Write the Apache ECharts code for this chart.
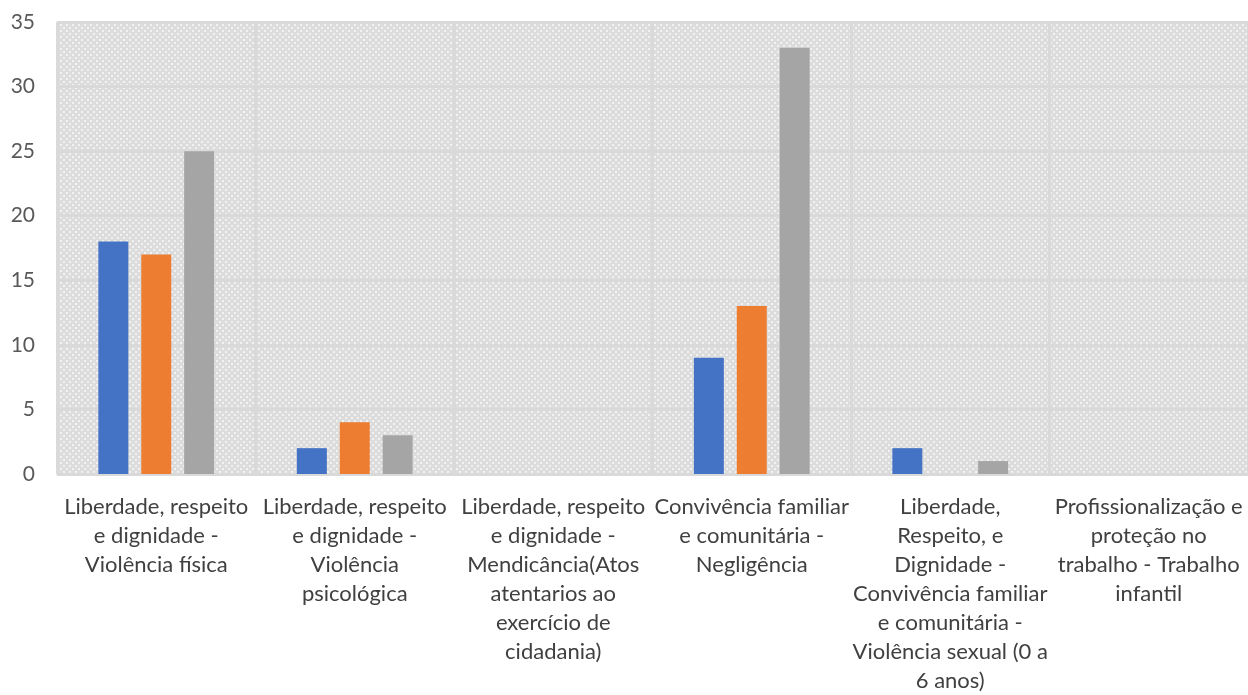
<!DOCTYPE html>
<html>
<head>
<meta charset="utf-8">
<script src="https://cdn.jsdelivr.net/npm/echarts@6/dist/echarts.min.js"></script>
<style>
  html, body { margin: 0; padding: 0; background: #fff; }
  #chart { width: 1248px; height: 695px; }
</style>
</head>
<body>
<div id="chart"></div>
<script>
  var categories = [
    'Liberdade, respeito\ne dignidade -\nViolência física',
    'Liberdade, respeito\ne dignidade -\nViolência\npsicológica',
    'Liberdade, respeito\ne dignidade -\nMendicância(Atos\natentarios ao\nexercício de\ncidadania)',
    'Convivência familiar\ne comunitária -\nNegligência',
    'Liberdade,\nRespeito, e\nDignidade -\nConvivência familiar\ne comunitária -\nViolência sexual (0 a\n6 anos)',
    'Profissionalização e\nproteção no\ntrabalho - Trabalho\ninfantil'
  ];
  var serie1 = [18, 2, 0, 9, 2, 0];
  var serie2 = [17, 4, 0, 13, 0, 0];
  var serie3 = [25, 3, 0, 33, 1, 0];

  // fundo pontilhado da área do gráfico
  function makePattern() {
    var c = document.createElement('canvas');
    c.width = 6; c.height = 6;
    var ctx = c.getContext('2d');
    ctx.fillStyle = '#dcdcdc';
    ctx.fillRect(0, 0, 6, 6);
    ctx.fillStyle = '#f2f2f2';
    ctx.fillRect(0, 0, 2, 2);
    ctx.fillRect(3, 3, 2, 2);
    return c;
  }

  var myChart = echarts.init(document.getElementById('chart'));
  var barStyle = { barWidth: 30, barGap: '43%' };

  var option = {
    animation: false,
    textStyle: { fontFamily: 'Lato, "Open Sans", sans-serif' },
    grid: {
      left: 57, right: 0, top: 22, bottom: 217,
      show: true,
      borderWidth: 0,
      backgroundColor: { image: makePattern(), repeat: 'repeat' }
    },
    xAxis: {
      type: 'category',
      data: categories,
      axisLine: { lineStyle: { color: '#d9d9d9', width: 1 } },
      axisTick: { show: false },
      splitLine: { show: true, lineStyle: { color: '#d9d9d9', width: 3 } },
      axisLabel: {
        interval: 0,
        margin: 18,
        fontSize: 22,
        lineHeight: 29,
        color: '#404040',
        align: 'center'
      }
    },
    yAxis: {
      type: 'value',
      min: 0, max: 35, interval: 5,
      axisLine: { show: false },
      axisTick: { show: false },
      splitLine: { lineStyle: { color: '#d9d9d9', width: 3 } },
      axisLabel: { fontSize: 21, color: '#595959', margin: 22 }
    },
    series: [
      Object.assign({ type: 'bar', data: serie1, itemStyle: { color: '#4472C4' } }, barStyle),
      Object.assign({ type: 'bar', data: serie2, itemStyle: { color: '#ED7D31' } }, barStyle),
      Object.assign({ type: 'bar', data: serie3, itemStyle: { color: '#A5A5A5' } }, barStyle)
    ]
  };

  myChart.setOption(option);
</script>
</body>
</html>
